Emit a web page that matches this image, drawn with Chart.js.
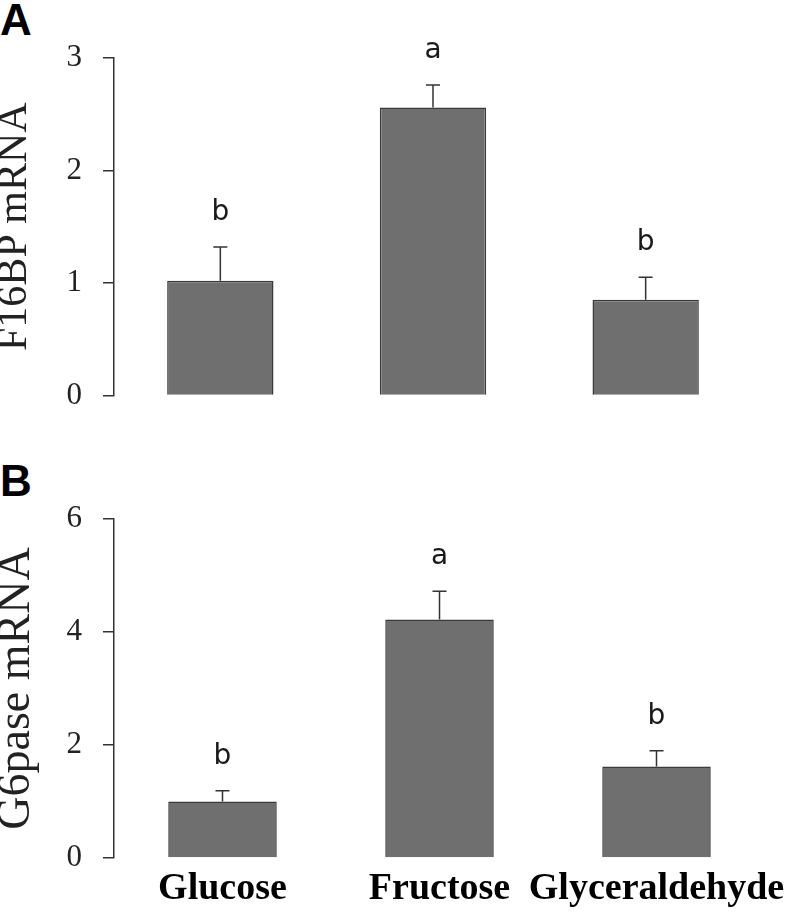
<!DOCTYPE html>
<html>
<head>
<meta charset="utf-8">
<script src="https://cdn.jsdelivr.net/npm/chart.js@4"></script>
<style>
  body { margin: 0; background: #fff; }
  #wrap { position: relative; width: 800px; height: 916px; overflow: hidden; }
  canvas { position: absolute; left: 0; }
  #chartA { top: 0; }
  #chartB { top: 460px; }
  .panel { position: absolute; left: 0; font: bold 44px 'Liberation Sans', Arial, sans-serif; line-height: 1; }
</style>
</head>
<body>
<div id="wrap">
  <div class="panel" style="top:-2px">A</div>
  <div class="panel" style="top:459px">B</div>
  <canvas id="chartA" width="800" height="435"></canvas>
  <canvas id="chartB" width="800" height="456"></canvas>
</div>
<script>
const groups = ['Glucose', 'Fructose', 'Glyceraldehyde']

const f16bpMean = [1.02, 2.56, 0.85]
const f16bpSem = [0.30, 0.20, 0.20]
const f16bpLetters = ['b', 'a', 'b']
const f16bpTicks = [0, 1, 2, 3]

const g6paseMean = [1.00, 4.22, 1.62]
const g6paseSem = [0.19, 0.50, 0.28]
const g6paseLetters = ['b', 'a', 'b']
const g6paseTicks = [0, 2, 4, 6]

const serif = "'Liberation Serif', 'Times New Roman', serif"

// draws the upper error bar and the significance letter over each bar
function errorBars (mean, sem, letters) {
  return {
    id: 'errorBars',
    afterDatasetsDraw (chart) {
      const ctx = chart.ctx
      const y = chart.scales.y
      const meta = chart.getDatasetMeta(0)
      ctx.save()
      ctx.strokeStyle = '#333'
      ctx.lineWidth = 1.5
      ctx.fillStyle = '#1a1a1a'
      ctx.font = "28px 'DejaVu Sans', sans-serif"
      ctx.textAlign = 'center'
      ctx.textBaseline = 'alphabetic'
      meta.data.forEach((bar, i) => {
        const top = y.getPixelForValue(mean[i] + sem[i])
        ctx.beginPath()
        ctx.moveTo(bar.x, bar.y)
        ctx.lineTo(bar.x, top)
        ctx.moveTo(bar.x - 7, top)
        ctx.lineTo(bar.x + 7, top)
        ctx.stroke()
        ctx.fillText(letters[i], bar.x, top - 27)
      })
      ctx.restore()
    }
  }
}

function render (id, mean, sem, letters, ticks, title, titleSize, showX, padding) {
  const ctx = document.getElementById(id).getContext('2d')
  return new Chart(ctx, {
    type: 'bar',
    data: {
      labels: groups,
      datasets: [{
        data: mean,
        backgroundColor: '#6f6f6f',
        borderColor: '#3a3a3a',
        borderWidth: 1.5,
        barPercentage: 0.5,
        categoryPercentage: 1
      }]
    },
    options: {
      responsive: false,
      animation: false,
      layout: { padding },
      plugins: { legend: { display: false }, tooltip: { enabled: false } },
      scales: {
        x: {
          display: showX,
          grid: { display: false },
          border: { display: false },
          ticks: {
            color: '#000',
            padding: 0,
            autoSkip: false,
            maxRotation: 0,
            minRotation: 0,
            font: { family: serif, size: 38, weight: 'bold' }
          },
          afterFit: (scale) => { if (showX) scale.height = 58 }
        },
        y: {
          min: ticks[0],
          max: ticks[ticks.length - 1],
          afterBuildTicks: (scale) => { scale.ticks = ticks.map(v => ({ value: v })) },
          grid: { drawOnChartArea: false, drawTicks: true, tickLength: 11, color: '#333', lineWidth: 1.5 },
          border: { display: true, color: '#333', width: 1.5 },
          ticks: { color: '#222', padding: 21, font: { family: serif, size: 31 } },
          title: {
            display: true,
            text: title,
            color: '#222',
            padding: { top: -6, bottom: 0 },
            font: { family: serif, size: titleSize, lineHeight: 1 }
          },
          afterFit: (scale) => { scale.width = 114 }
        }
      }
    },
    plugins: [errorBars(mean, sem, letters)]
  })
}

render('chartA', f16bpMean, f16bpSem, f16bpLetters, f16bpTicks, 'F16BP mRNA', 42, false,
  { top: 58, right: 48, bottom: 11, left: 0 })
render('chartB', g6paseMean, g6paseSem, g6paseLetters, g6paseTicks, 'G6pase mRNA', 46, true,
  { top: 59, right: 35, bottom: 0, left: 0 })
</script>
</body>
</html>
